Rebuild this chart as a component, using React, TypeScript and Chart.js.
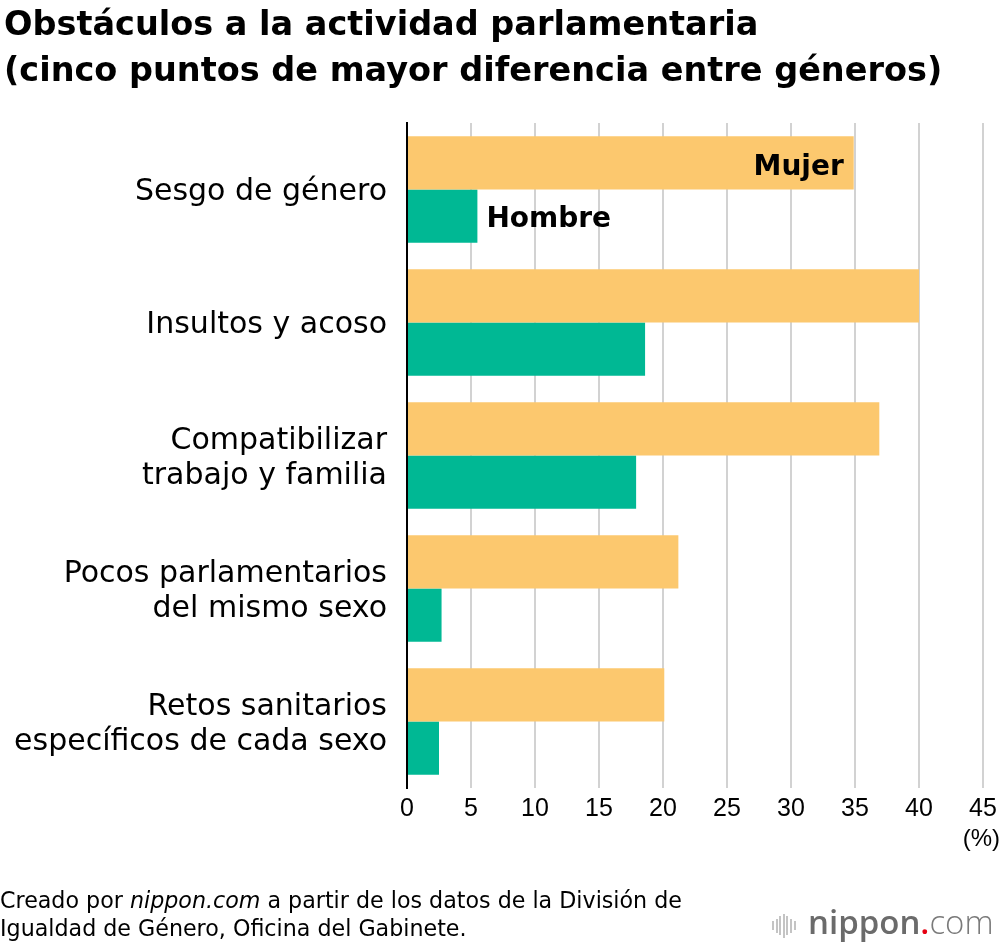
import React, { useEffect, useRef } from 'react';
import { Chart, registerables } from 'chart.js';

Chart.register(...registerables);

const categories: (string | string[])[] = [
  'Sesgo de género',
  'Insultos y acoso',
  ['Compatibilizar', 'trabajo y familia'],
  ['Pocos parlamentarios', 'del mismo sexo'],
  ['Retos sanitarios', 'específicos de cada sexo'],
];
const seriesNames = ['Mujer', 'Hombre'];
const mujerValues = [34.9, 40.0, 36.9, 21.2, 20.1];
const hombreValues = [5.5, 18.6, 17.9, 2.7, 2.5];
const xTicks = { min: 0, max: 45, step: 5 };

const SANS = '"DejaVu Sans", "Liberation Sans", sans-serif';

// writes "Mujer" inside the first orange bar and "Hombre" right of the first green one
const seriesLabels = {
  id: 'seriesLabels',
  afterDatasetsDraw(chart: Chart) {
    const ctx = chart.ctx;
    const m: any = chart.getDatasetMeta(0).data[0];
    const h: any = chart.getDatasetMeta(1).data[0];
    if (!m || !h) return;
    ctx.save();
    ctx.font = `bold 28px ${SANS}`;
    ctx.fillStyle = '#000';
    ctx.textBaseline = 'middle';
    ctx.textAlign = 'right';
    ctx.fillText(chart.data.datasets[0].label as string, m.x - 10, m.y + 5);
    ctx.textAlign = 'left';
    ctx.fillText(chart.data.datasets[1].label as string, h.x + 9, h.y + 4);
    ctx.restore();
  },
};

const ObstaclesChart: React.FC = () => {
  const canvasRef = useRef<HTMLCanvasElement>(null);
  const chartRef = useRef<Chart | null>(null);

  useEffect(() => {
    if (!canvasRef.current) return;
    if (chartRef.current) chartRef.current.destroy();

    chartRef.current = new Chart(canvasRef.current, {
      type: 'bar',
      data: {
        labels: categories as any,
        datasets: [
          {
            label: seriesNames[0],
            data: mujerValues,
            backgroundColor: '#FCC86E',
            borderWidth: 0,
            categoryPercentage: 0.8,
            barPercentage: 1.0,
          },
          {
            label: seriesNames[1],
            data: hombreValues,
            backgroundColor: '#00B894',
            borderWidth: 0,
            categoryPercentage: 0.8,
            barPercentage: 1.0,
          },
        ],
      },
      options: {
        indexAxis: 'y',
        animation: false,
        responsive: true,
        maintainAspectRatio: false,
        layout: { padding: { top: 123, right: 17, left: 0, bottom: 0 } },
        plugins: {
          legend: { display: false },
          tooltip: { enabled: false },
        },
        scales: {
          x: {
            min: xTicks.min,
            max: xTicks.max,
            ticks: {
              stepSize: xTicks.step,
              color: '#000',
              padding: 6,
              font: { family: '"Liberation Sans", Arial, sans-serif', size: 25 },
            },
            grid: { color: '#d2d2d2', lineWidth: 2, drawTicks: false },
            border: { display: false },
            afterFit: (scale: any) => {
              scale.height = 158;
              // the "45" label may hang into the right margin
              scale.paddingRight = 17;
            },
          },
          y: {
            grid: { display: false, drawTicks: false },
            border: { color: '#000', width: 2 },
            ticks: {
              color: '#000',
              padding: 20,
              labelOffset: 3,
              font: { family: SANS, size: 30, lineHeight: 35 / 30 },
            },
            afterFit: (scale: any) => {
              scale.width = 407;
            },
          },
        },
      },
      plugins: [seriesLabels],
    });

    return () => {
      if (chartRef.current) {
        chartRef.current.destroy();
        chartRef.current = null;
      }
    };
  }, []);

  return (
    <div style={{ position: 'absolute', left: 0, top: 0, width: 1000, height: 946 }}>
      <canvas ref={canvasRef}></canvas>
    </div>
  );
};

const Logo: React.FC = () => {
  const bars = [9, 14, 19, 24, 19, 14, 9];
  return (
    <>
      <div
        style={{
          position: 'absolute',
          left: 772,
          top: 913,
          height: 25,
          display: 'flex',
          alignItems: 'center',
          gap: 1.6,
        }}
      >
        {bars.map((b, i) => (
          <div key={i} style={{ width: 2, height: b, background: '#c4c4c4' }} />
        ))}
      </div>
      <div
        style={{
          position: 'absolute',
          left: 808,
          top: 905,
          fontFamily: '"Open Sans", sans-serif',
          fontSize: 33,
          lineHeight: '33px',
          whiteSpace: 'nowrap',
        }}
      >
        <span style={{ fontWeight: 600, color: '#6b6b6b' }}>nippon</span>
        <span style={{ fontWeight: 600, color: '#e60012' }}>.</span>
        <span style={{ fontWeight: 300, color: '#7a7a7a' }}>com</span>
      </div>
    </>
  );
};

export default function App() {
  useEffect(() => {
    document.body.style.margin = '0';
  }, []);

  return (
    <div
      style={{
        position: 'relative',
        width: 1000,
        height: 946,
        background: '#fff',
        overflow: 'hidden',
        fontFamily: SANS,
        color: '#000',
      }}
    >
      <ObstaclesChart />
      <div
        style={{
          position: 'absolute',
          left: 4,
          top: 1,
          fontSize: 33.5,
          lineHeight: '46px',
          fontWeight: 'bold',
          whiteSpace: 'nowrap',
        }}
      >
        Obstáculos a la actividad parlamentaria
        <br />
        (cinco puntos de mayor diferencia entre géneros)
      </div>
      <div
        style={{
          position: 'absolute',
          right: 0,
          top: 824,
          fontFamily: '"Liberation Sans", Arial, sans-serif',
          fontSize: 24,
          lineHeight: '28px',
        }}
      >
        (%)
      </div>
      <div
        style={{
          position: 'absolute',
          left: 0,
          top: 886,
          fontSize: 22.2,
          lineHeight: '28px',
          whiteSpace: 'nowrap',
        }}
      >
        Creado por <i>nippon.com</i> a partir de los datos de la División de
        <br />
        Igualdad de Género, Oficina del Gabinete.
      </div>
      <Logo />
    </div>
  );
}
